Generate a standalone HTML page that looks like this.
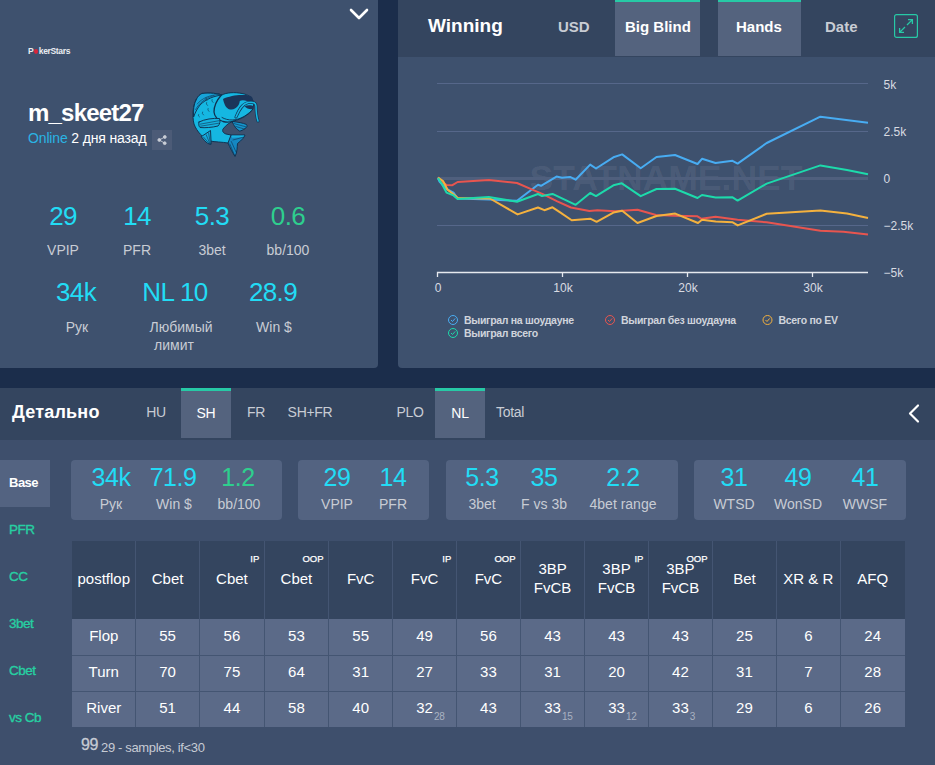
<!DOCTYPE html>
<html><head><meta charset="utf-8">
<style>
*{box-sizing:border-box;margin:0;padding:0}
html,body{width:935px;height:765px;overflow:hidden;background:#1b2d4b;font-family:"Liberation Sans",sans-serif;}
.abs{position:absolute}
.t{position:absolute;white-space:nowrap;line-height:1}
.c{transform:translateX(-50%)}
#lp{position:absolute;left:0;top:0;width:378px;height:368px;background:#3e516e;border-radius:0 0 4px 0}
#rp{position:absolute;left:398px;top:0;width:537px;height:368px;background:#3e516e;border-radius:0 0 0 4px;overflow:hidden}
#rph{position:absolute;left:0;top:0;width:537px;height:57px;background:#34455f}
.num{color:#22dcf5;font-size:26px;letter-spacing:-0.6px}
.lbl{color:#c8ccd4;font-size:14px}
#bot{position:absolute;left:0;top:388px;width:935px;height:377px;background:#3e4f6c}
#both{position:absolute;left:0;top:0;width:935px;height:52px;background:#34455f}
.tab{position:absolute;top:0;height:50px;background:#54637e;border-top:3px solid #27c9a6}
.box{position:absolute;top:72px;height:60px;background:#536381;border-radius:4px}
.nav{position:absolute;left:9px;color:#27cfa2;font-size:13.5px;-webkit-text-stroke:0.35px #27cfa2;letter-spacing:-0.5px}
.tabt{color:#c8ccd4;font-size:14px;letter-spacing:-0.3px}
.bnum{color:#22dcf5;font-size:25px;letter-spacing:-0.5px}
.blbl{color:#c8ccd4;font-size:14px}
.th{position:absolute;height:78px;padding-bottom:4px;display:flex;align-items:center;justify-content:center;text-align:center;color:#fff;font-size:15px;line-height:19px}
.sup{font-size:9.5px;-webkit-text-stroke:0.25px #fff;color:#fff;transform:translateX(-100%)}
.td{position:absolute;height:36px;padding-bottom:3px;display:flex;align-items:center;justify-content:center;color:#fff;font-size:15px}
.tv{position:relative}
.sub{position:absolute;left:100%;bottom:-6px;font-size:10px;letter-spacing:-0.3px;color:#a9b2c1;margin-left:1px}
</style></head><body>

<!-- LEFT PROFILE PANEL -->
<div id="lp">
  <svg class="abs" style="left:348px;top:7px" width="22" height="14" viewBox="0 0 22 14"><path d="M3 3 L11 11 L19 3" fill="none" stroke="#fff" stroke-width="2.6" stroke-linecap="round" stroke-linejoin="round"/></svg>
  <div class="t" style="left:28px;top:46.5px;font-size:8.5px;font-weight:bold;color:#e9ecf1;letter-spacing:-0.35px">P<span style="display:inline-block;width:4.8px;height:5.2px;border-radius:50%;background:#d9253a;margin:0 0.5px 0 0.2px;vertical-align:-0.3px"></span>kerStars</div>
  <div class="t" style="left:28px;top:101px;font-size:24px;font-weight:bold;color:#fff;letter-spacing:-0.8px">m_skeet27</div>
  <div class="t" style="left:28px;top:131px;font-size:14px;color:#fff;letter-spacing:-0.15px"><span style="color:#2ab4e4">Online</span> 2 дня назад</div>
  <div class="abs" style="left:152px;top:130px;width:20px;height:20px;background:#4c5b77"></div>
  <svg class="abs" style="left:152px;top:130px" width="20" height="20" viewBox="0 0 20 20"><g fill="#c9cdd6" stroke="#c9cdd6" stroke-width="0.9"><circle cx="12.8" cy="7" r="1.4"/><circle cx="7.3" cy="10" r="1.4"/><circle cx="12.7" cy="13.2" r="1.4"/><path d="M12.8 7 L7.3 10 L12.7 13.2" fill="none"/></g></svg>
  <!-- fish avatar -->
  <svg class="abs" style="left:180px;top:80px" width="90" height="85" viewBox="180 80 90 85" id="fish"><g stroke="#10304f" stroke-width="0.95" stroke-linejoin="round" stroke-linecap="round">
<path d="M231 135 L245 135 C244.5 137 242 140 237.5 143.5 C237 147 237.5 152 235 156.5 C233 153 230 148 228 143 Z" fill="#1588c2"/>
<path d="M231.5 135.6 L244.3 135.6 L243.2 137.3 L232 137.8 Z" fill="#19b3e1" stroke="none"/>
<path d="M229.8 144 L234.6 155.5 M231.3 141.5 L236 152 M233 140 L244 137" fill="none" stroke-width="0.6"/>
<path d="M232 121.5 C238 122 243 123 246.5 124.5 C247.5 126 247 127.5 245 128.5 C243 130 241 131 239.5 131 C236 129 234 126 232 121.5 Z" fill="#1694cb"/>
<path d="M234 123.6 L245.8 126.8 M235.8 126.5 L244.3 129" fill="none" stroke-width="0.6"/>
<path d="M202 93.5 C210 92.5 218 93.5 222 95 C226 92.5 235 92 242 93.5 C248 94.5 252 97 254 103 L252.5 110 C248 115 242 119 234 121 C230 122 226 125 223 129 C222 131 223 133 226 134 L231 135 L228 143 C222 142 215 142 210 141 C203 138 197 132 194 124 C192 116 193 105 196 100 C198 96 200 94.5 202 93.5 Z" fill="#15b7e2"/>
<path d="M201.5 136.5 L210.5 130.5 L211.2 144.2 C209 144.5 206.5 143 204.5 140.5 Z" fill="#17aadb"/>
<path d="M209.5 144 L203.6 137.2 M210 144 L206.2 134.8 M210.5 144 L208.6 133" fill="none" stroke-width="0.6"/>
<path d="M196 100 C198 96 200 94.5 202 93.5 C210 92.5 218 93.5 222 95 C214 96 206 99 200 105 C197 109 195 113 193.6 117 C193 110 194 104 196 100 Z" fill="#17a4d8"/>
<path d="M197.2 104 C202 98 210 95 219 94.4 M195.6 109.5 C199 103 206 97.6 214 95.6" fill="none" stroke-width="0.6"/>
<path d="M221 95.5 C217 100 214 106 214 112 C214.5 117 218 120 223 121.5 C227 122.5 231 122 234 121" fill="none" stroke-width="1.3"/>
<path d="M206 97.5 q-1 1.5 1 3 M206.5 102.5 q-1 1.5 1 3 M208 108.5 q-1 1.5 1 3 M202.5 112 q-1 1.5 1 3 M198.5 114.5 q-1 1.5 1 2.5 M212 99.5 q-1 1.5 1 3" fill="none" stroke-width="0.6"/>
<path d="M223 99 C228 96.5 236 95 241 95 C246 94.8 250 95 252 97 C253 99 253.2 100.5 253 102 L247 101 C244 100 241.5 100 239.8 101 C239.3 105 237 108.8 231.5 109.6 C227 109.6 224.5 106 223 99 Z" fill="#1b355a" stroke="none"/>
<path d="M244.5 106 C248 104.8 252 105 254 106.5 L252.5 109.2 C249 109.4 246.5 108.6 244.5 106 Z" fill="#1b355a" stroke="none"/>
<path d="M222 117.5 C228 121 236 121 244 116.5 C248 114 251 111.5 253 109" fill="none" stroke-width="0.9"/>
<path d="M236 117 C239 110 242 104 248 102.6 C253 101.6 256 103 256 106 C256 110 256 115 258 121" fill="none" stroke="#12395c" stroke-width="3"/>
<path d="M236 117 C239 110 242 104 248 102.6 C253 101.6 256 103 256 106 C256 110 256 115 258 121" fill="none" stroke="#15b7e2" stroke-width="1.5"/>
<path d="M199 122 C205 119 213 118 219.5 118.5 C220.5 121 220 124 218 126 C212 127.5 205 128 200 127.5 C198.5 126 198.5 123.5 199 122 Z" fill="#16b0de"/>
<path d="M200 124.2 L219.5 120.6 M200.5 126.2 L218.8 123.2" fill="none" stroke-width="0.6"/>
</g></svg>

  <div class="t c num" style="left:63px;top:203px">29</div>
  <div class="t c lbl" style="left:63px;top:243px">VPIP</div>
  <div class="t c num" style="left:137px;top:203px">14</div>
  <div class="t c lbl" style="left:137px;top:243px">PFR</div>
  <div class="t c num" style="left:212px;top:203px">5.3</div>
  <div class="t c lbl" style="left:212px;top:243px">3bet</div>
  <div class="t c num" style="left:288px;top:203px;color:#2ecf8e">0.6</div>
  <div class="t c lbl" style="left:288px;top:243px">bb/100</div>

  <div class="t c num" style="left:76px;top:279px">34k</div>
  <div class="t c lbl" style="left:77px;top:320px">Рук</div>
  <div class="t c num" style="left:175px;top:279px">NL 10</div>
  <div class="t c lbl" style="left:181px;top:320px">Любимый</div>
  <div class="t c lbl" style="left:174px;top:338px">лимит</div>
  <div class="t c num" style="left:273px;top:279px">28.9</div>
  <div class="t c lbl" style="left:274px;top:320px">Win $</div>
</div>

<!-- RIGHT CHART PANEL -->
<div id="rp">
  <div id="rph"></div>
  <div class="tab" style="left:217px;width:85px;height:56px;border-top-width:2px"></div>
  <div class="tab" style="left:320px;width:83px;height:56px;border-top-width:2px"></div>
  <div class="t" style="left:30px;top:16px;font-size:19px;font-weight:bold;color:#fff">Winning</div>
  <div class="t" style="left:160px;top:19px;font-size:15px;font-weight:bold;color:#c8ccd4">USD</div>
  <div class="t" style="left:227px;top:19px;font-size:15px;font-weight:bold;color:#fff">Big Blind</div>
  <div class="t" style="left:338px;top:19px;font-size:15px;font-weight:bold;color:#fff">Hands</div>
  <div class="t" style="left:427px;top:19px;font-size:15px;font-weight:bold;color:#c8ccd4">Date</div>
  <svg class="abs" style="left:496px;top:14px" width="24" height="24" viewBox="0 0 24 24"><rect x="0.6" y="0.6" width="22.8" height="22.8" rx="2" fill="none" stroke="#27c9a6" stroke-width="1.2"/><path d="M13 11 L18.4 5.6 M14 5.6 H18.4 V10 M11 13 L5.6 18.4 M5.6 14 V18.4 H10" fill="none" stroke="#27c9a6" stroke-width="1.3"/></svg>
</div>
<svg class="abs" id="chart" style="left:398px;top:57px" width="537" height="311" viewBox="398 57 537 311">
<line x1="437" y1="83.5" x2="868" y2="83.5" stroke="#56678a" stroke-width="1"/>
<line x1="437" y1="131.5" x2="868" y2="131.5" stroke="#56678a" stroke-width="1"/>
<line x1="437" y1="225.5" x2="868" y2="225.5" stroke="#56678a" stroke-width="1"/>
<text x="666" y="190" text-anchor="middle" font-family="Liberation Sans" font-weight="bold" font-size="35.5" fill="#ffffff" fill-opacity="0.075">STATNAME.NET</text>
<line x1="437" y1="178.5" x2="868" y2="178.5" stroke="#4f5f7d" stroke-width="3"/>
<path d="M437.5 277 V272.5 H868 M562.5 272.5 V277 M687.5 272.5 V277 M812.5 272.5 V277" fill="none" stroke="#e6e9ee" stroke-width="1.3"/>
<text x="438" y="291.5" text-anchor="middle" font-family="Liberation Sans" font-size="12" fill="#d8dbe2">0</text>
<text x="563" y="291.5" text-anchor="middle" font-family="Liberation Sans" font-size="12" fill="#d8dbe2">10k</text>
<text x="688" y="291.5" text-anchor="middle" font-family="Liberation Sans" font-size="12" fill="#d8dbe2">20k</text>
<text x="813" y="291.5" text-anchor="middle" font-family="Liberation Sans" font-size="12" fill="#d8dbe2">30k</text>
<text x="883.5" y="88.5" font-family="Liberation Sans" font-size="12" fill="#d8dbe2">5k</text>
<text x="883.5" y="135.5" font-family="Liberation Sans" font-size="12" fill="#d8dbe2">2.5k</text>
<text x="883.5" y="182.5" font-family="Liberation Sans" font-size="12" fill="#d8dbe2">0</text>
<text x="883.5" y="229.5" font-family="Liberation Sans" font-size="12" fill="#d8dbe2">−2.5k</text>
<text x="883.5" y="276.5" font-family="Liberation Sans" font-size="12" fill="#d8dbe2">−5k</text>
<polyline points="438,178 439.5,181.5 446.5,189 453.5,192.6 457.5,198.5 489,199.6 517,200.8 538,184.8 541,185.8 556.5,176.6 562,177.8 570,176.9 575.6,179.7 590.2,164.6 596,168.5 613.4,157.3 622.2,154.4 640.7,168.2 656.5,157 675,155 697.5,164 702,158.8 715.5,163 732.5,160.8 737.6,163.6 766.7,143 820.4,116.7 868,122.7" fill="none" stroke="#48acf2" stroke-width="2" stroke-linejoin="round" stroke-linecap="butt"/>
<polyline points="438,177.5 441.2,181 446.5,185 452.4,185.2 457.6,182 488.8,180 517,183 530,188.6 542.8,194.2 557.3,201.4 570.9,207.5 589.4,211 597.4,210.2 615,211.3 637.5,209.7 656,215 675,215.8 697.5,216.3 701.5,218.8 715.6,216.8 737.6,219.8 766.7,222.3 820.4,230.8 843.4,231.8 868,234.6" fill="none" stroke="#e8554f" stroke-width="2" stroke-linejoin="round" stroke-linecap="butt"/>
<polyline points="438,177.5 443,181 447.6,189.7 455.9,196.2 457.6,198 490,198.5 517.6,214.4 538,207.5 544.4,210.2 552.5,207.3 560.5,212.6 571.7,220.3 590.2,218.7 596.6,221.8 613.4,212.6 622.2,210.7 637.5,223 656.5,216 675.2,213.6 698,223 702,219.7 715.7,221.6 732.7,222.3 737.7,225.4 766.7,213.8 820.4,210.5 847,213.6 868,218.1" fill="none" stroke="#f4b13e" stroke-width="2" stroke-linejoin="round" stroke-linecap="butt"/>
<polyline points="438,178 441.8,183.8 446.5,192.6 453.5,195.4 457.6,199 488.8,197 517,201.8 538,194 542,196 552.5,193.9 575.7,204.8 590.2,193 596,196.1 613.4,185.3 621.8,183.3 640.7,196.2 656.5,189 675,188.8 697.5,198 702,195 715.6,197.5 732.6,197.3 737.6,200.6 766.7,183.6 820.4,165.4 847,170 868,174.3" fill="none" stroke="#1ddaab" stroke-width="2" stroke-linejoin="round" stroke-linecap="butt"/>
<circle cx="453" cy="320" r="4.5" fill="none" stroke="#48acf2" stroke-width="1"/><path d="M451 320 L452.5 321.5 L455.2 318.4" fill="none" stroke="#48acf2" stroke-width="1"/><text x="464" y="324" font-family="Liberation Sans" font-weight="bold" font-size="10.5" letter-spacing="-0.3" fill="#d0d4dc">Выиграл на шоудауне</text>
<circle cx="610" cy="320" r="4.5" fill="none" stroke="#e8554f" stroke-width="1"/><path d="M608 320 L609.5 321.5 L612.2 318.4" fill="none" stroke="#e8554f" stroke-width="1"/><text x="621" y="324" font-family="Liberation Sans" font-weight="bold" font-size="10.5" letter-spacing="-0.3" fill="#d0d4dc">Выиграл без шоудауна</text>
<circle cx="767.5" cy="320" r="4.5" fill="none" stroke="#f4b13e" stroke-width="1"/><path d="M765.5 320 L767.0 321.5 L769.7 318.4" fill="none" stroke="#f4b13e" stroke-width="1"/><text x="778.5" y="324" font-family="Liberation Sans" font-weight="bold" font-size="10.5" letter-spacing="-0.3" fill="#d0d4dc">Всего по EV</text>
<circle cx="453" cy="333" r="4.5" fill="none" stroke="#1ddaab" stroke-width="1"/><path d="M451 333 L452.5 334.5 L455.2 331.4" fill="none" stroke="#1ddaab" stroke-width="1"/><text x="464" y="337" font-family="Liberation Sans" font-weight="bold" font-size="10.5" letter-spacing="-0.3" fill="#d0d4dc">Выиграл всего</text>
</svg>

<!-- BOTTOM -->
<div id="bot">
  <div id="both"></div>
  <div class="tab" style="left:181px;width:50px"></div>
  <div class="tab" style="left:435px;width:50px"></div>
  <div class="t" style="left:12px;top:15px;font-size:18px;font-weight:bold;color:#fff;letter-spacing:0.2px">Детально</div>

  <div class="t c tabt" style="left:156px;top:17px">HU</div>
  <div class="t c tabt" style="left:206px;top:18px;color:#fff">SH</div>
  <div class="t c tabt" style="left:256px;top:17px">FR</div>
  <div class="t c tabt" style="left:310px;top:17px">SH+FR</div>
  <div class="t c tabt" style="left:410px;top:17px">PLO</div>
  <div class="t c tabt" style="left:460px;top:18px;color:#fff">NL</div>
  <div class="t c tabt" style="left:510px;top:17px">Total</div>
  <svg class="abs" style="left:905px;top:15px" width="18" height="22" viewBox="0 0 18 22"><path d="M13 2.5 L5 10.5 L13 18.5" fill="none" stroke="#fff" stroke-width="2.2" stroke-linecap="round" stroke-linejoin="round"/></svg>

  <div class="abs" style="left:0;top:72px;width:50px;height:47px;background:#536381"></div>
  <div class="t" style="left:9px;top:88px;font-size:13px;font-weight:bold;color:#fff;letter-spacing:-0.5px">Base</div>
  <div class="nav t" style="top:135px">PFR</div>
  <div class="nav t" style="top:182px">CC</div>
  <div class="nav t" style="top:229px">3bet</div>
  <div class="nav t" style="top:276px">Cbet</div>
  <div class="nav t" style="top:323px">vs Cb</div>

  <div class="box" style="left:71px;width:211px"></div>
  <div class="box" style="left:298px;width:131px"></div>
  <div class="box" style="left:446px;width:232px"></div>
  <div class="box" style="left:694px;width:212px"></div>

  <div class="t c bnum" style="left:111px;top:77px">34k</div>
  <div class="t c blbl" style="left:111px;top:109px">Рук</div>
  <div class="t c bnum" style="left:173px;top:77px">71.9</div>
  <div class="t c blbl" style="left:174px;top:109px">Win $</div>
  <div class="t c bnum" style="left:238px;top:77px;color:#2ecf8e">1.2</div>
  <div class="t c blbl" style="left:239px;top:109px">bb/100</div>

  <div class="t c bnum" style="left:337px;top:77px">29</div>
  <div class="t c blbl" style="left:337px;top:109px">VPIP</div>
  <div class="t c bnum" style="left:393px;top:77px">14</div>
  <div class="t c blbl" style="left:393px;top:109px">PFR</div>

  <div class="t c bnum" style="left:482px;top:77px">5.3</div>
  <div class="t c blbl" style="left:482px;top:109px">3bet</div>
  <div class="t c bnum" style="left:544px;top:77px">35</div>
  <div class="t c blbl" style="left:544px;top:109px">F vs 3b</div>
  <div class="t c bnum" style="left:623px;top:77px">2.2</div>
  <div class="t c blbl" style="left:623px;top:109px">4bet range</div>

  <div class="t c bnum" style="left:734px;top:77px">31</div>
  <div class="t c blbl" style="left:734px;top:109px">WTSD</div>
  <div class="t c bnum" style="left:798px;top:77px">49</div>
  <div class="t c blbl" style="left:798px;top:109px">WonSD</div>
  <div class="t c bnum" style="left:865px;top:77px">41</div>
  <div class="t c blbl" style="left:865px;top:109px">WWSF</div>
<div class="abs" style="left:72px;top:153px;width:833px;height:78px;background:#34455f"></div>
<div class="abs" style="left:72px;top:231px;width:833px;height:108px;background:#5b6a88"></div>
<div class="abs" style="left:135.0px;top:153px;width:1px;height:186px;background:#445572"></div>
<div class="abs" style="left:199.1px;top:153px;width:1px;height:186px;background:#445572"></div>
<div class="abs" style="left:263.8px;top:153px;width:1px;height:186px;background:#445572"></div>
<div class="abs" style="left:328.0px;top:153px;width:1px;height:186px;background:#445572"></div>
<div class="abs" style="left:392.3px;top:153px;width:1px;height:186px;background:#445572"></div>
<div class="abs" style="left:455.8px;top:153px;width:1px;height:186px;background:#445572"></div>
<div class="abs" style="left:520.0px;top:153px;width:1px;height:186px;background:#445572"></div>
<div class="abs" style="left:584.2px;top:153px;width:1px;height:186px;background:#445572"></div>
<div class="abs" style="left:647.9px;top:153px;width:1px;height:186px;background:#445572"></div>
<div class="abs" style="left:712.0px;top:153px;width:1px;height:186px;background:#445572"></div>
<div class="abs" style="left:775.8px;top:153px;width:1px;height:186px;background:#445572"></div>
<div class="abs" style="left:839.9px;top:153px;width:1px;height:186px;background:#445572"></div>
<div class="abs" style="left:72px;top:267px;width:833px;height:1px;background:#445572"></div>
<div class="abs" style="left:72px;top:303px;width:833px;height:1px;background:#445572"></div>
<div class="th" style="left:72.0px;top:153px;width:63.5px">postflop</div>
<div class="th" style="left:135.5px;top:153px;width:64.1px">Cbet</div>
<div class="th" style="left:199.6px;top:153px;width:64.7px">Cbet</div>
<div class="t sup" style="left:259.3px;top:165.5px">IP</div>
<div class="th" style="left:264.3px;top:153px;width:64.2px">Cbet</div>
<div class="t sup" style="left:323.5px;top:165.5px">OOP</div>
<div class="th" style="left:328.5px;top:153px;width:64.3px">FvC</div>
<div class="th" style="left:392.8px;top:153px;width:63.5px">FvC</div>
<div class="t sup" style="left:451.3px;top:165.5px">IP</div>
<div class="th" style="left:456.3px;top:153px;width:64.2px">FvC</div>
<div class="t sup" style="left:515.5px;top:165.5px">OOP</div>
<div class="th" style="left:520.5px;top:153px;width:64.2px">3BP<br>FvCB</div>
<div class="th" style="left:584.7px;top:153px;width:63.7px">3BP<br>FvCB</div>
<div class="t sup" style="left:643.4px;top:165.5px">IP</div>
<div class="th" style="left:648.4px;top:153px;width:64.1px">3BP<br>FvCB</div>
<div class="t sup" style="left:707.5px;top:165.5px">OOP</div>
<div class="th" style="left:712.5px;top:153px;width:63.8px">Bet</div>
<div class="th" style="left:776.3px;top:153px;width:64.1px">XR &amp; R</div>
<div class="th" style="left:840.4px;top:153px;width:64.6px">AFQ</div>
<div class="td" style="left:72.0px;top:231px;width:63.5px"><span class="tv">Flop</span></div>
<div class="td" style="left:135.5px;top:231px;width:64.1px"><span class="tv">55</span></div>
<div class="td" style="left:199.6px;top:231px;width:64.7px"><span class="tv">56</span></div>
<div class="td" style="left:264.3px;top:231px;width:64.2px"><span class="tv">53</span></div>
<div class="td" style="left:328.5px;top:231px;width:64.3px"><span class="tv">55</span></div>
<div class="td" style="left:392.8px;top:231px;width:63.5px"><span class="tv">49</span></div>
<div class="td" style="left:456.3px;top:231px;width:64.2px"><span class="tv">56</span></div>
<div class="td" style="left:520.5px;top:231px;width:64.2px"><span class="tv">43</span></div>
<div class="td" style="left:584.7px;top:231px;width:63.7px"><span class="tv">43</span></div>
<div class="td" style="left:648.4px;top:231px;width:64.1px"><span class="tv">43</span></div>
<div class="td" style="left:712.5px;top:231px;width:63.8px"><span class="tv">25</span></div>
<div class="td" style="left:776.3px;top:231px;width:64.1px"><span class="tv">6</span></div>
<div class="td" style="left:840.4px;top:231px;width:64.6px"><span class="tv">24</span></div>
<div class="td" style="left:72.0px;top:267px;width:63.5px"><span class="tv">Turn</span></div>
<div class="td" style="left:135.5px;top:267px;width:64.1px"><span class="tv">70</span></div>
<div class="td" style="left:199.6px;top:267px;width:64.7px"><span class="tv">75</span></div>
<div class="td" style="left:264.3px;top:267px;width:64.2px"><span class="tv">64</span></div>
<div class="td" style="left:328.5px;top:267px;width:64.3px"><span class="tv">31</span></div>
<div class="td" style="left:392.8px;top:267px;width:63.5px"><span class="tv">27</span></div>
<div class="td" style="left:456.3px;top:267px;width:64.2px"><span class="tv">33</span></div>
<div class="td" style="left:520.5px;top:267px;width:64.2px"><span class="tv">31</span></div>
<div class="td" style="left:584.7px;top:267px;width:63.7px"><span class="tv">20</span></div>
<div class="td" style="left:648.4px;top:267px;width:64.1px"><span class="tv">42</span></div>
<div class="td" style="left:712.5px;top:267px;width:63.8px"><span class="tv">31</span></div>
<div class="td" style="left:776.3px;top:267px;width:64.1px"><span class="tv">7</span></div>
<div class="td" style="left:840.4px;top:267px;width:64.6px"><span class="tv">28</span></div>
<div class="td" style="left:72.0px;top:303px;width:63.5px"><span class="tv">River</span></div>
<div class="td" style="left:135.5px;top:303px;width:64.1px"><span class="tv">51</span></div>
<div class="td" style="left:199.6px;top:303px;width:64.7px"><span class="tv">44</span></div>
<div class="td" style="left:264.3px;top:303px;width:64.2px"><span class="tv">58</span></div>
<div class="td" style="left:328.5px;top:303px;width:64.3px"><span class="tv">40</span></div>
<div class="td" style="left:392.8px;top:303px;width:63.5px"><span class="tv">32<span class="sub">28</span></span></div>
<div class="td" style="left:456.3px;top:303px;width:64.2px"><span class="tv">43</span></div>
<div class="td" style="left:520.5px;top:303px;width:64.2px"><span class="tv">33<span class="sub">15</span></span></div>
<div class="td" style="left:584.7px;top:303px;width:63.7px"><span class="tv">33<span class="sub">12</span></span></div>
<div class="td" style="left:648.4px;top:303px;width:64.1px"><span class="tv">33<span class="sub">3</span></span></div>
<div class="td" style="left:712.5px;top:303px;width:63.8px"><span class="tv">29</span></div>
<div class="td" style="left:776.3px;top:303px;width:64.1px"><span class="tv">6</span></div>
<div class="td" style="left:840.4px;top:303px;width:64.6px"><span class="tv">26</span></div>
<div class="t" style="left:81px;top:349px;font-size:16px;-webkit-text-stroke:0.3px #c6cbd4;letter-spacing:-0.5px;color:#c6cbd4">99</div>
<div class="t" style="left:101px;top:353px;font-size:13px;letter-spacing:-0.35px;color:#c6cbd4">29 - samples, if&lt;30</div>
</div>
</body></html>
